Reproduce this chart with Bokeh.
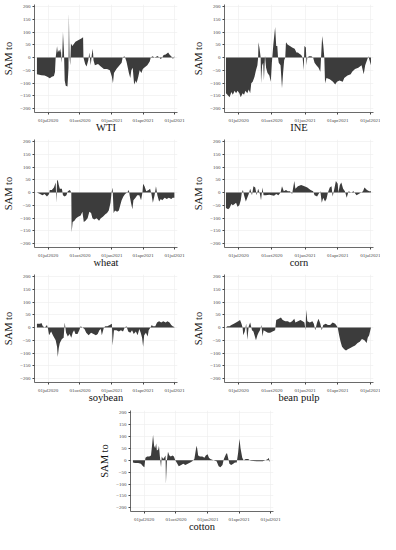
import pandas as pd
from bokeh.plotting import figure
from bokeh.layouts import column, row
from bokeh.models import Range1d, FixedTicker, Spacer
from bokeh.embed import file_html
from bokeh.resources import INLINE

# ---------------- data ----------------
tick_dates = ["2020-07-01", "2020-10-01", "2021-01-01", "2021-04-01", "2021-07-01"]
tick_labels = ["01jul2020", "01oct2020", "01jan2021", "01apr2021", "01jul2021"]
y_ticks = [-200, -150, -100, -50, 0, 50, 100, 150, 200]
y_title = "SAM to"

wti_date = ["2020-05-30", "2020-06-12", "2020-06-21", "2020-06-29", "2020-07-06", "2020-07-12", "2020-07-18", "2020-07-21",
            "2020-07-23", "2020-07-27", "2020-07-29", "2020-08-02", "2020-08-05", "2020-08-07", "2020-08-09", "2020-08-11",
            "2020-08-13", "2020-08-16", "2020-08-18", "2020-08-21", "2020-08-26", "2020-08-29", "2020-08-30", "2020-09-01",
            "2020-09-03", "2020-09-05", "2020-09-09", "2020-09-18", "2020-09-27", "2020-10-05", "2020-10-10", "2020-10-11",
            "2020-10-16", "2020-10-20", "2020-10-25", "2020-10-28", "2020-11-01", "2020-11-04", "2020-11-07", "2020-11-09",
            "2020-11-13", "2020-11-22", "2020-11-30", "2020-12-09", "2020-12-18", "2020-12-26", "2021-01-01", "2021-01-04",
            "2021-01-07", "2021-01-14", "2021-01-23", "2021-01-29", "2021-02-01", "2021-02-06", "2021-02-08", "2021-02-12",
            "2021-02-19", "2021-02-23", "2021-02-26", "2021-03-02", "2021-03-06", "2021-03-11", "2021-03-13", "2021-03-18",
            "2021-03-22", "2021-03-27", "2021-03-31", "2021-04-04", "2021-04-13", "2021-04-20", "2021-04-23", "2021-04-28",
            "2021-05-04", "2021-05-13", "2021-05-17", "2021-05-22", "2021-05-26", "2021-05-30", "2021-06-05", "2021-06-12",
            "2021-06-17", "2021-06-21", "2021-06-26", "2021-06-30"]
wti_val = [-65, -69, -70, -75, -81, -75, -72, -56,
           0, 44, 20, 31, 20, 37, -20, 10,
           100, 20, -90, -110, -113, -40, 175, 0,
           -30, 55, 45, 62, 69, 75, 80, 0,
           -25, -35, -10, 20, -30, 10, 35, -10,
           -30, -25, -35, -45, -45, -50, -75, -100,
           -60, -45, -30, -20, 0, 5, 0, -15,
           -60, -80, -50, -40, -105, -90, -100, -75,
           -50, -60, -45, -40, -30, -15, 0, 5,
           0, 6, 0, -5, 0, 10, 12, 20,
           10, 5, -5, 5]

ine_date = ["2020-05-27", "2020-05-31", "2020-06-06", "2020-06-11", "2020-06-15", "2020-06-20", "2020-06-24", "2020-06-28",
            "2020-07-03", "2020-07-07", "2020-07-12", "2020-07-16", "2020-07-20", "2020-07-25", "2020-07-29", "2020-08-02",
            "2020-08-05", "2020-08-09", "2020-08-14", "2020-08-18", "2020-08-22", "2020-08-24", "2020-08-25", "2020-08-28",
            "2020-08-31", "2020-09-01", "2020-09-04", "2020-09-07", "2020-09-09", "2020-09-12", "2020-09-15", "2020-09-19",
            "2020-09-24", "2020-09-28", "2020-10-01", "2020-10-05", "2020-10-10", "2020-10-13", "2020-10-16", "2020-10-18",
            "2020-10-20", "2020-10-25", "2020-10-29", "2020-11-01", "2020-11-04", "2020-11-07", "2020-11-09", "2020-11-14",
            "2020-11-20", "2020-11-26", "2020-12-03", "2020-12-08", "2020-12-12", "2020-12-16", "2020-12-21", "2020-12-25",
            "2020-12-28", "2020-12-30", "2021-01-03", "2021-01-05", "2021-01-07", "2021-01-12", "2021-01-18", "2021-01-23",
            "2021-01-27", "2021-02-01", "2021-02-07", "2021-02-12", "2021-02-14", "2021-02-17", "2021-02-20", "2021-02-23",
            "2021-02-25", "2021-03-01", "2021-03-10", "2021-03-19", "2021-03-25", "2021-03-30", "2021-04-06", "2021-04-15",
            "2021-04-19", "2021-04-28", "2021-05-07", "2021-05-11", "2021-05-19", "2021-05-28", "2021-06-06", "2021-06-12",
            "2021-06-16", "2021-06-21", "2021-06-25", "2021-06-28", "2021-07-02"]
ine_val = [-140, -145, -155, -135, -145, -130, -140, -130,
           -140, -155, -140, -145, -130, -140, -125, -140,
           -100, -95, -75, -50, -30, 0, 60, 35,
           0, -100, -30, -20, -90, 8, -40, -60,
           -70, -95, -20, 50, 120, 45, 45, 0,
           -20, -30, -120, -60, -10, 0, 60, 50,
           45, 40, 35, 20, 20, 15, 10, 0,
           -50, 45, 40, -30, 0, 5, 5, 0,
           -20, -30, -40, -55, 0, 85, 50, 0,
           -100, -80, -85, -95, -105, -95, -90, -95,
           -80, -70, -65, -55, -45, -40, -30, -65,
           -30, -10, 5, -10, -30]

wheat_date = ["2020-05-30", "2020-06-08", "2020-06-15", "2020-06-21", "2020-06-28", "2020-07-04", "2020-07-06", "2020-07-12",
              "2020-07-18", "2020-07-23", "2020-07-25", "2020-07-27", "2020-07-29", "2020-08-01", "2020-08-04", "2020-08-10",
              "2020-08-13", "2020-08-18", "2020-08-23", "2020-08-27", "2020-09-02", "2020-09-06", "2020-09-07", "2020-09-10",
              "2020-09-15", "2020-09-20", "2020-09-26", "2020-10-03", "2020-10-08", "2020-10-12", "2020-10-17", "2020-10-23",
              "2020-10-28", "2020-11-02", "2020-11-06", "2020-11-11", "2020-11-18", "2020-11-25", "2020-11-30", "2020-12-06",
              "2020-12-13", "2020-12-18", "2020-12-23", "2020-12-28", "2020-12-31", "2021-01-03", "2021-01-06", "2021-01-10",
              "2021-01-16", "2021-01-21", "2021-01-25", "2021-01-29", "2021-02-03", "2021-02-08", "2021-02-14", "2021-02-19",
              "2021-02-21", "2021-02-25", "2021-03-01", "2021-03-04", "2021-03-10", "2021-03-15", "2021-03-21", "2021-03-26",
              "2021-03-30", "2021-04-01", "2021-04-05", "2021-04-10", "2021-04-17", "2021-04-21", "2021-04-25", "2021-04-29",
              "2021-05-04", "2021-05-08", "2021-05-12", "2021-05-17", "2021-05-22", "2021-05-26", "2021-06-02", "2021-06-08",
              "2021-06-14", "2021-06-21", "2021-06-25", "2021-06-30"]
wheat_val = [0, -5, -10, -5, -15, -5, 10, 10,
             20, 40, -40, 45, 50, 30, 15, 15,
             -10, -15, -10, 5, 10, 0, -155, -115,
             -110, -100, -95, -90, -75, -115, -110, -100,
             -75, -80, -100, -105, -100, -110, -100, -95,
             -85, -80, -70, -40, 0, 20, -80, -70,
             -75, -70, -50, -30, -15, -5, 0, 10,
             -10, -40, -65, -30, -20, -10, -10, -30,
             0, 35, 25, 5, 10, 15, -5, -40,
             -10, 25, -10, -35, -25, -30, -20, -25,
             -20, -25, -20, -20]

corn_date = ["2020-05-27", "2020-06-02", "2020-06-06", "2020-06-11", "2020-06-15", "2020-06-20", "2020-06-24", "2020-06-28",
             "2020-07-03", "2020-07-07", "2020-07-10", "2020-07-13", "2020-07-16", "2020-07-21", "2020-07-25", "2020-07-29",
             "2020-08-02", "2020-08-07", "2020-08-11", "2020-08-16", "2020-08-20", "2020-08-24", "2020-08-29", "2020-09-01",
             "2020-09-05", "2020-09-08", "2020-09-14", "2020-09-24", "2020-10-07", "2020-10-13", "2020-10-19", "2020-10-25",
             "2020-10-29", "2020-11-03", "2020-11-09", "2020-11-14", "2020-11-20", "2020-11-26", "2020-12-02", "2020-12-05",
             "2020-12-12", "2020-12-21", "2020-12-30", "2021-01-07", "2021-01-16", "2021-01-23", "2021-01-27", "2021-02-03",
             "2021-02-07", "2021-02-12", "2021-02-16", "2021-02-20", "2021-02-25", "2021-03-01", "2021-03-05", "2021-03-10",
             "2021-03-15", "2021-03-18", "2021-03-22", "2021-03-27", "2021-04-01", "2021-04-03", "2021-04-07", "2021-04-11",
             "2021-04-16", "2021-04-21", "2021-04-26", "2021-05-01", "2021-05-08", "2021-05-15", "2021-05-23", "2021-05-29",
             "2021-06-05", "2021-06-10", "2021-06-14", "2021-06-21", "2021-06-27", "2021-07-02"]
corn_val = [-60, -65, -60, -45, -50, -45, -40, -55,
            -50, -30, 0, 10, -10, -35, -20, -5,
            15, -10, 25, 20, -10, 15, -5, -30,
            20, -10, -10, -8, -12, -5, -10, 0,
            25, 5, 10, 5, 5, -5, 45, 15,
            25, 30, 25, 20, 10, 5, -10, -15,
            -5, 5, -40, -20, -35, -25, 0, 20,
            25, -15, 10, 45, 35, 0, 30, 40,
            15, 5, -20, 5, 0, 5, -10, -5,
            0, 5, 20, 10, 5, 5]

soy_date = ["2020-05-30", "2020-06-08", "2020-06-12", "2020-06-16", "2020-06-22", "2020-06-28", "2020-07-01", "2020-07-04",
            "2020-07-10", "2020-07-15", "2020-07-19", "2020-07-23", "2020-07-27", "2020-07-29", "2020-08-01", "2020-08-04",
            "2020-08-10", "2020-08-15", "2020-08-18", "2020-08-22", "2020-08-27", "2020-09-01", "2020-09-06", "2020-09-10",
            "2020-09-14", "2020-09-18", "2020-09-24", "2020-09-29", "2020-10-03", "2020-10-08", "2020-10-14", "2020-10-19",
            "2020-10-26", "2020-11-02", "2020-11-09", "2020-11-16", "2020-11-21", "2020-11-26", "2020-11-30", "2020-12-03",
            "2020-12-09", "2020-12-13", "2020-12-19", "2020-12-26", "2021-01-01", "2021-01-03", "2021-01-07", "2021-01-14",
            "2021-01-21", "2021-01-27", "2021-02-02", "2021-02-07", "2021-02-12", "2021-02-17", "2021-02-23", "2021-02-28",
            "2021-03-05", "2021-03-11", "2021-03-16", "2021-03-21", "2021-03-25", "2021-03-29", "2021-04-01", "2021-04-04",
            "2021-04-09", "2021-04-14", "2021-04-17", "2021-04-22", "2021-04-26", "2021-04-29", "2021-05-06", "2021-05-11",
            "2021-05-17", "2021-05-23", "2021-05-29", "2021-06-05", "2021-06-10", "2021-06-16", "2021-06-21", "2021-06-25",
            "2021-06-30"]
soy_val = [15, 15, 18, 5, 0, 10, -5, -30,
           -15, -30, -40, -50, -75, -115, -80, -60,
           -45, -40, 20, -20, -35, -25, -40, -20,
           -10, -25, -25, -10, 5, 0, -5, -20,
           -30, -20, -25, -30, -25, -10, -5, -30,
           0, 5, 5, 10, 15, -70, -10, -10,
           -15, -10, -15, 0, 5, -15, -20, -10,
           -25, -15, -30, -5, -20, -40, -75, -30,
           -20, -35, -10, 0, 10, 5, 5, 20,
           25, 20, 25, 20, 25, 20, 10, 5,
           2]

pulp_date = ["2020-05-27", "2020-05-31", "2020-06-06", "2020-06-11", "2020-06-18", "2020-06-24", "2020-06-30", "2020-07-05",
             "2020-07-09", "2020-07-12", "2020-07-14", "2020-07-18", "2020-07-22", "2020-07-25", "2020-07-29", "2020-08-02",
             "2020-08-07", "2020-08-11", "2020-08-14", "2020-08-18", "2020-08-22", "2020-08-25", "2020-08-29", "2020-09-02",
             "2020-09-05", "2020-09-08", "2020-09-14", "2020-09-20", "2020-09-26", "2020-10-03", "2020-10-10", "2020-10-13",
             "2020-10-20", "2020-10-26", "2020-10-31", "2020-11-07", "2020-11-14", "2020-11-20", "2020-11-26", "2020-12-02",
             "2020-12-05", "2020-12-12", "2020-12-19", "2020-12-25", "2020-12-30", "2021-01-02", "2021-01-04", "2021-01-07",
             "2021-01-14", "2021-01-21", "2021-01-25", "2021-01-29", "2021-02-03", "2021-02-07", "2021-02-12", "2021-02-16",
             "2021-02-20", "2021-02-27", "2021-03-05", "2021-03-11", "2021-03-18", "2021-03-25", "2021-03-30", "2021-04-01",
             "2021-04-05", "2021-04-09", "2021-04-13", "2021-04-19", "2021-04-24", "2021-04-29", "2021-05-06", "2021-05-12",
             "2021-05-19", "2021-05-26", "2021-06-01", "2021-06-07", "2021-06-14", "2021-06-20", "2021-06-23", "2021-06-27",
             "2021-07-02"]
pulp_val = [0, 5, 5, 10, 15, 20, 25, 30,
            15, 0, -30, -15, 15, -48, 5, 20,
            -10, -15, -30, -50, -30, -20, -10, 10,
            -35, -10, -15, -20, -20, -15, -10, 30,
            35, 40, 30, 25, 25, 20, 25, 35,
            20, 25, 30, 25, 20, -10, 70, 25,
            20, 25, 15, -10, 20, 35, 15, -10,
            10, 15, 10, 10, 20, 15, 5, 0,
            -30, -55, -75, -85, -90, -85, -80, -75,
            -70, -60, -55, -45, -50, -60, -40, -30,
            0]

cotton_date = ["2020-05-30", "2020-06-05", "2020-06-14", "2020-06-22", "2020-06-28", "2020-07-02", "2020-07-05", "2020-07-10",
               "2020-07-16", "2020-07-21", "2020-07-24", "2020-07-27", "2020-07-30", "2020-08-02", "2020-08-05", "2020-08-07",
               "2020-08-11", "2020-08-13", "2020-08-16", "2020-08-19", "2020-08-21", "2020-08-25", "2020-08-28", "2020-09-01",
               "2020-09-02", "2020-09-05", "2020-09-08", "2020-09-12", "2020-09-16", "2020-09-21", "2020-09-25", "2020-09-29",
               "2020-10-05", "2020-10-09", "2020-10-16", "2020-10-22", "2020-10-28", "2020-11-04", "2020-11-11", "2020-11-17",
               "2020-11-23", "2020-11-28", "2020-11-30", "2020-12-04", "2020-12-09", "2020-12-16", "2020-12-22", "2020-12-26",
               "2020-12-31", "2021-01-04", "2021-01-08", "2021-01-17", "2021-01-26", "2021-02-01", "2021-02-06", "2021-02-12",
               "2021-02-16", "2021-02-22", "2021-02-25", "2021-03-01", "2021-03-04", "2021-03-09", "2021-03-15", "2021-03-20",
               "2021-03-25", "2021-03-29", "2021-04-02", "2021-04-05", "2021-04-10", "2021-04-14", "2021-04-20", "2021-04-27",
               "2021-05-04", "2021-05-13", "2021-05-21", "2021-05-30", "2021-06-08", "2021-06-16", "2021-06-23", "2021-06-25",
               "2021-06-29"]
cotton_val = [-10, -12, -12, -15, -25, -30, 10, 15,
              15, 20, 60, 105, 60, 50, 70, 40,
              45, 60, 10, -30, 15, 5, 10, 20,
              -100, 0, 35, 20, 15, 20, 15, 0,
              -15, -25, -20, -15, -20, -15, -10, -5,
              5, 50, 60, 20, 15, 15, 10, 20,
              25, 10, 5, 0, -5, -25, -30, -20,
              5, 25, 30, 5, -15, -20, -15, -10,
              -10, 30, 90, 50, 10, 0, 5, 5,
              -2, -3, -5, -5, -5, 0, 5, 10,
              -10]

panels = [
    ("WTI", wti_date, wti_val),
    ("INE", ine_date, ine_val),
    ("wheat", wheat_date, wheat_val),
    ("corn", corn_date, corn_val),
    ("soybean", soy_date, soy_val),
    ("bean pulp", pulp_date, pulp_val),
    ("cotton", cotton_date, cotton_val),
]

# ---------------- drawing ----------------
FONT = "Liberation Serif"


def ms(d):
    return float(pd.Timestamp(d).value // 10**6)


tick_ms = [ms(d) for d in tick_dates]
x_start, x_end = ms("2020-05-23"), ms("2021-07-09")


def make_panel(name, dates, vals, height, left, right, top):
    p = figure(width=190, height=height, x_axis_type="datetime",
               x_range=Range1d(x_start, x_end), y_range=Range1d(-215, 208),
               output_backend="svg", toolbar_location=None,
               min_border_left=left, min_border_right=right,
               min_border_top=top, min_border_bottom=0)
    p.outline_line_color = None
    p.background_fill_color = "white"
    p.varea(x=pd.to_datetime(dates), y1=0, y2=vals, fill_color="#3c3c3c")

    p.xaxis.ticker = FixedTicker(ticks=tick_ms)
    p.xaxis.major_label_overrides = {t: lab for t, lab in zip(tick_ms, tick_labels)}
    p.xaxis.axis_label = name
    p.xaxis.axis_label_text_font = FONT
    p.xaxis.axis_label_text_font_style = "normal"
    p.xaxis.axis_label_text_font_size = "10.5px"
    p.xaxis.axis_label_standoff = -4
    p.xaxis.major_label_text_font_size = "5px"
    p.xaxis.major_label_standoff = 3

    p.yaxis.ticker = FixedTicker(ticks=y_ticks)
    p.yaxis.axis_label = y_title
    p.yaxis.axis_label_text_font = FONT
    p.yaxis.axis_label_text_font_style = "normal"
    p.yaxis.axis_label_text_font_size = "10.5px"
    p.yaxis.axis_label_standoff = 3
    p.yaxis.major_label_orientation = "horizontal"
    p.yaxis.major_label_text_font_size = "5px"
    p.yaxis.major_label_standoff = 2

    for ax in (p.xaxis, p.yaxis):
        ax.major_label_text_font = FONT
        ax.major_label_text_color = "#444444"
        ax.axis_line_color = "#444444"
        ax.axis_line_width = 0.8
        ax.major_tick_line_color = "#444444"
        ax.major_tick_out = 2
        ax.major_tick_in = 0
        ax.minor_tick_line_color = None
        ax.axis_label_text_color = "#111111"

    p.xgrid.grid_line_color = "#ececec"
    p.ygrid.grid_line_color = "#ececec"
    p.xgrid.grid_line_width = 0.6
    p.ygrid.grid_line_width = 0.6
    return p


figs = []
for i, (name, d, v) in enumerate(panels):
    col = i % 2 if i < 6 else 0
    h = 135 if i < 6 else 129
    top = 4 if i < 6 else 5
    left, right = (25, 13) if col == 0 else (31, 7)
    figs.append(make_panel(name, d, v, h, left, right, top))

layout = column(
    row(figs[0], figs[1]),
    row(figs[2], figs[3]),
    row(figs[4], figs[5]),
    row(Spacer(width=96, height=129), figs[6]),
    spacing=0,
)

open("out.html", "w").write(file_html(layout, INLINE))
